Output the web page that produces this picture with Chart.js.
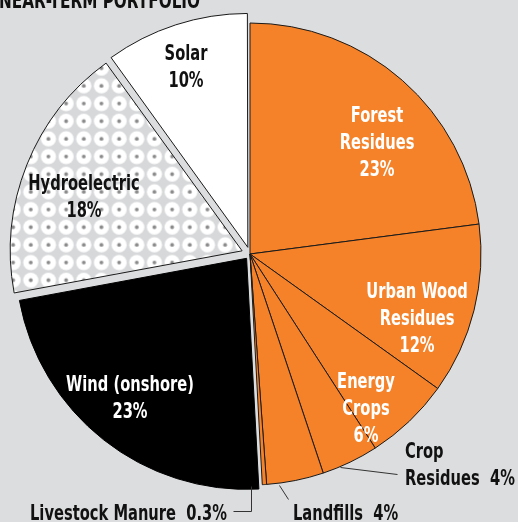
<!DOCTYPE html>
<html>
<head>
<meta charset="utf-8">
<script src="https://cdn.jsdelivr.net/npm/chart.js@4"></script>
<style>
  html, body { margin: 0; padding: 0; background: #dcdddf; }
  #wrap { width: 518px; height: 522px; position: relative; }
</style>
</head>
<body>
<div id="wrap"><canvas id="pie"></canvas></div>
<script>
// data (percent of portfolio)
const categories = ['Forest Residues', 'Urban Wood Residues', 'Energy Crops', 'Crop Residues',
    'Landfills', 'Livestock Manure', 'Wind (onshore)', 'Hydroelectric', 'Solar'];
const shares = [23, 12, 6, 4, 4, 0.3, 23, 18, 10];
const shareLabels = ['23%', '12%', '6%', '4%', '4%', '0.3%', '23%', '18%', '10%'];
const titleText = 'NEAR-TERM PORTFOLIO';

const ORANGE = '#f58229';
const BG = '#dcdddf';
const FONT = '"Liberation Sans Narrow", "DejaVu Sans Condensed", "DejaVu Sans", sans-serif';

// dotted pattern for hydro
function makeDots() {
    const step = 53 / 3;
    const c = document.createElement('canvas');
    c.width = 53;
    c.height = 53;
    const g = c.getContext('2d');
    g.fillStyle = '#d7d8da';
    g.fillRect(0, 0, 53, 53);
    for (let i = -1; i <= 3; i++) {
        for (let j = -1; j <= 3; j++) {
            const x = step / 2 + i * step, y = step / 2 + j * step;
            g.fillStyle = '#ffffff';
            g.beginPath(); g.arc(x, y, 7.6, 0, Math.PI * 2); g.fill();
            g.fillStyle = '#8a8a8a';
            g.beginPath(); g.arc(x, y, 1.9, 0, Math.PI * 2); g.fill();
        }
    }
    const p = document.createElement('canvas').getContext('2d').createPattern(c, 'repeat');
    if (p.setTransform) p.setTransform(new DOMMatrix().translate(-5.5, -8.2));
    return p;
}

const dots = makeDots();
const fills = [ORANGE, ORANGE, ORANGE, ORANGE, ORANGE, ORANGE, '#000000', dots, '#ffffff'];
const borders = ['#1a1a1a', '#1a1a1a', '#1a1a1a', '#1a1a1a', '#1a1a1a', '#1a1a1a', '#000000', '#1a1a1a', '#1a1a1a'];
const offsets = [0, 0, 0, 0, 0, 0, 22, 34, 28];

// label placement relative to the pie centre
const labelSpots = [
    { lines: ['Forest', 'Residues', '23%'], dx: 127, dy: -140, color: '#fff' },
    { lines: ['Urban Wood', 'Residues', '12%'], dx: 167, dy: 36, color: '#fff' },
    { lines: ['Energy', 'Crops', '6%'], dx: 116, dy: 126, color: '#fff' },
    { lines: ['Crop', 'Residues  4%'], dx: 155, dy: 196, color: '#111', align: 'left',
      leader: [[90, 213], [147, 220]] },
    { lines: ['Landfills  4%'], dx: 43, dy: 258, color: '#111', align: 'left',
      leader: [[29, 231], [38, 245]] },
    { lines: ['Livestock Manure  0.3%'], dx: -23, dy: 258, color: '#111', align: 'right',
      leader: [[1, 232], [1, 257], [-17, 257]] },
    { lines: ['Wind (onshore)', '23%'], dx: -120, dy: 129, color: '#fff' },
    { lines: ['Hydroelectric', '18%'], dx: -166, dy: -72, color: '#111' },
    { lines: ['Solar', '10%'], dx: -64, dy: -202, color: '#111' }
];

// draw text squeezed horizontally so the installed font looks condensed
function squeezedText(ctx, t, x, y, sx, align) {
    const w = ctx.measureText(t).width * sx;
    let left = x - w / 2;
    if (align === 'left') left = x;
    if (align === 'right') left = x - w;
    ctx.save();
    ctx.translate(left, y);
    ctx.scale(sx, 1);
    ctx.textAlign = 'left';
    ctx.fillText(t, 0, 0);
    ctx.restore();
}

const labelPlugin = {
    id: 'pieLabels',
    beforeDraw(chart) {
        const ctx = chart.ctx;
        ctx.save();
        ctx.fillStyle = BG;
        ctx.fillRect(0, 0, chart.width, chart.height);
        ctx.restore();
    },
    afterDraw(chart) {
        const ctx = chart.ctx;
        const arc = chart.getDatasetMeta(0).data[0];
        const cx = arc.x, cy = arc.y;
        ctx.save();
        ctx.font = 'bold 22px ' + FONT;
        ctx.textBaseline = 'alphabetic';
        const sx = 197 / ctx.measureText('Livestock Manure  0.3%').width;
        labelSpots.forEach(s => {
            if (s.leader) {
                ctx.strokeStyle = '#333';
                ctx.lineWidth = 1;
                ctx.beginPath();
                s.leader.forEach((p, k) => {
                    const x = cx + p[0] + 0.5, y = cy + p[1] + 0.5;
                    if (k === 0) ctx.moveTo(x, y); else ctx.lineTo(x, y);
                });
                ctx.stroke();
            }
            ctx.fillStyle = s.color;
            s.lines.forEach((t, k) => {
                squeezedText(ctx, t, cx + s.dx, cy + s.dy + k * 27 + 8, sx, s.align);
            });
        });
        // title, cut off at the top edge
        ctx.fillStyle = '#111';
        const tx = 201 / ctx.measureText(titleText).width;
        squeezedText(ctx, titleText, -1, 8, tx, 'left');
        ctx.restore();
    }
};

new Chart(document.getElementById('pie'), {
    type: 'pie',
    data: {
        labels: categories,
        datasets: [{
            data: shares,
            backgroundColor: fills,
            borderColor: borders,
            borderWidth: 1,
            offset: offsets,
            hoverOffset: 0
        }]
    },
    options: {
        responsive: true,
        maintainAspectRatio: false,
        animation: false,
        radius: 231,
        layout: { padding: { left: 0, right: 18, top: 0, bottom: 14 } },
        plugins: {
            legend: { display: false },
            tooltip: { enabled: false }
        }
    },
    plugins: [labelPlugin]
});
</script>
</body>
</html>
